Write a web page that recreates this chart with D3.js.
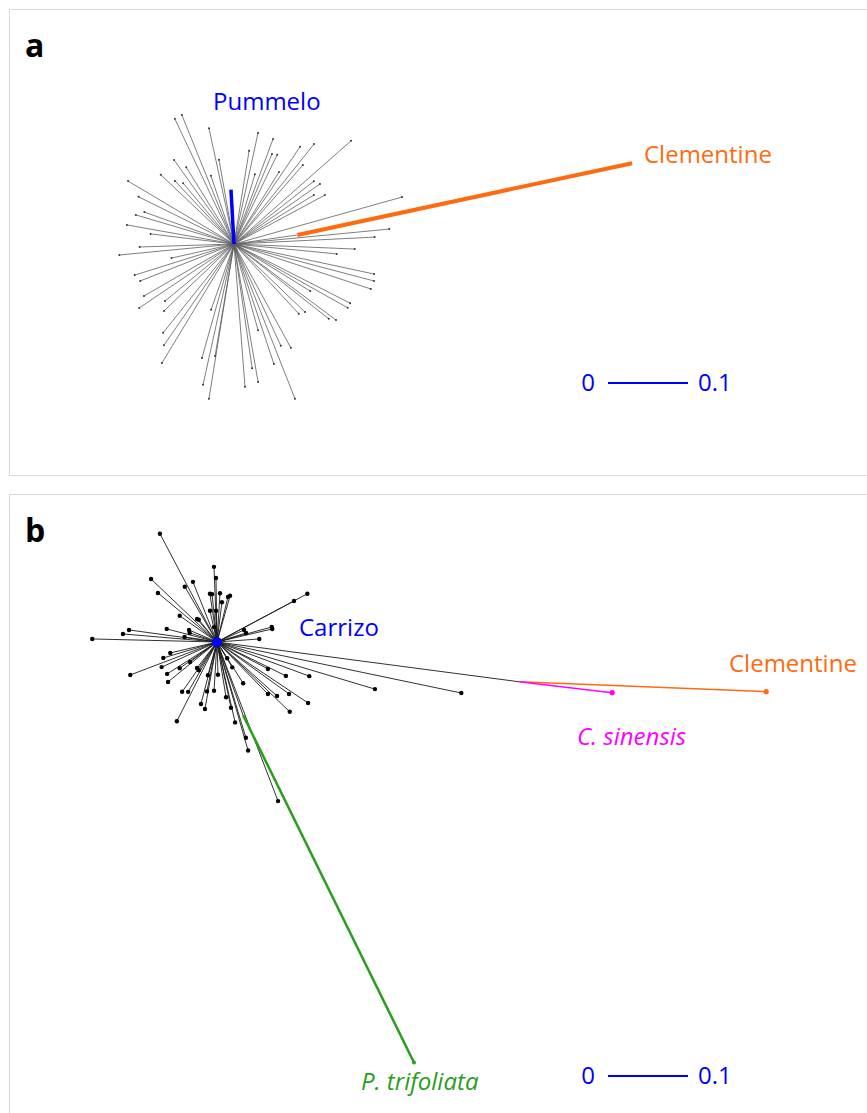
<!DOCTYPE html>
<html>
<head>
<meta charset="utf-8">
<script src="https://cdn.jsdelivr.net/npm/d3@7"></script>
<style>
  body { margin: 0; background: #fff; }
  text { font-family: "Open Sans", "Noto Sans", sans-serif; }
</style>
</head>
<body>
<div id="chart"></div>
<script>
// panel a: tip branches, angle in degrees (screen, clockwise from east) and branch length
var aAngles = [-115.3, -112.0, -102.2, -100.1, -125.5, -121.9, -108.7, -136.6, -133.1, -129.9,
  -149.3, -153.7, -160.4, -163.5, -169.9, -173.1, 178.2, 174.5, 167.3, 162.6, 158.5, 150.0,
  146.0, 140.4, 136.3, 109.2, 128.6, 124.7, 121.2, 105.7, 102.4, 99.2, 99.6,
  -77.8, -69.6, -80.8, -67.1, -64.2, -73.3, -55.8, -51.3, -41.4, -48.9, -58.0, -38.2, -34.9,
  -31.5, -28.3, -15.6, -5.5, -2.8, 2.4, 5.5, 12.1, 14.8, 18.2, 27.0, 29.3, 31.7, 47.1, 43.8,
  38.3, 36.7, 61.3, 65.3, 71.6, 74.4, 81.7, 80.1, 85.6, 68.5];
var aLengths = [0.173, 0.174, 0.148, 0.107, 0.129, 0.113, 0.090, 0.126, 0.108, 0.099,
  0.154, 0.133, 0.119, 0.128, 0.136, 0.105, 0.118, 0.144, 0.080, 0.130, 0.126, 0.130,
  0.143, 0.112, 0.121, 0.087, 0.142, 0.154, 0.174, 0.148, 0.180, 0.196, 0.142,
  0.142, 0.140, 0.118, 0.122, 0.124, 0.091, 0.147, 0.160, 0.195, 0.131, 0.106, 0.127, 0.131,
  0.117, 0.129, 0.218, 0.195, 0.176, 0.151, 0.129, 0.179, 0.181, 0.180, 0.163, 0.163, 0.112,
  0.119, 0.123, 0.151, 0.159, 0.148, 0.140, 0.158, 0.112, 0.157, 0.175, 0.179, 0.208];
var aPummelo = [-93.2, 0.068];
var aClemStem = [-8.1, 0.080];
var aClem = [-12.1, 0.428];

// panel b
var bAngles = [-117.8, -92.3, -90.9, -136.3, -140.3, -120.2, -111.8, -98.3, -95.9, -86.5,
  -76.3, -74.2, -102.7, -91.8, -82.9, -144.9, -131, -129.3, -101.3, -165.4, -172.2, -175.1,
  -178.6, -171.1, -156.8, -161.6, -28.0, -28.1, -24.0, -17.2, -15.3, -13.3, -4.1, 159.2,
  155.6, 166.8, 163.5, 147.4, 140.8, 144.9, 143.5, 127.6, 122.7, 105.3, 101.5, 88.3, 93.5,
  125, 120.1, 104.5, 100.2, 116.9, 58, 59, 57.6, 80.7, 78, 77.3, 73.2, 74, 69, 27.9, 26.2,
  20.3, 45.6, 42, 35.8, 33.8, 43.8, 16.6, 11.8];
var bLengths = [0.153, 0.094, 0.080, 0.114, 0.096, 0.080, 0.081, 0.061, 0.060, 0.061,
  0.058, 0.060, 0.040, 0.039, 0.050, 0.057, 0.038, 0.036, 0.019, 0.065, 0.111, 0.118,
  0.156, 0.041, 0.038, 0.036, 0.109, 0.128, 0.037, 0.038, 0.071, 0.071, 0.053, 0.116,
  0.076, 0.060, 0.070, 0.074, 0.079, 0.057, 0.042, 0.041, 0.042, 0.043, 0.063, 0.041, 0.061,
  0.076, 0.072, 0.080, 0.085, 0.111, 0.024, 0.037, 0.061, 0.070, 0.084, 0.103, 0.125, 0.141,
  0.213, 0.072, 0.096, 0.123, 0.091, 0.101, 0.111, 0.137, 0.126, 0.206, 0.312];
var bCitrusStem = [7.5, 0.381];
var bClem = [2.3, 0.309];
var bSinensis = [6.7, 0.117];
var bTrifStem = [70.4, 0.097];
var bTrif = [63.8, 0.484];

var scaleTicks = ["0", "0.1"];

var blue = "#0000ff", orange = "#ff6a10", magenta = "#ff00ff", green = "#2a9d1c";

var svg = d3.select("#chart").append("svg")
  .attr("width", 867)
  .attr("height", 1113);

// tree units -> pixels, 0.1 = 80px
var lenScale = d3.scaleLinear().domain([0, 0.1]).range([0, 80]);

function endPoint(from, ang, len) {
  var r = lenScale(len), t = ang * Math.PI / 180;
  return [from[0] + r * Math.cos(t), from[1] + r * Math.sin(t)];
}

// panel frames
svg.append("rect").attr("x", 9.5).attr("y", 9.5).attr("width", 870).attr("height", 466)
  .attr("fill", "none").attr("stroke", "#d9d9d9");
svg.append("rect").attr("x", 9.5).attr("y", 494.5).attr("width", 870).attr("height", 640)
  .attr("fill", "none").attr("stroke", "#d9d9d9");

svg.append("text").attr("x", 25).attr("y", 57).attr("font-size", 32).attr("font-weight", "bold").text("a");
svg.append("text").attr("x", 25).attr("y", 542).attr("font-size", 32).attr("font-weight", "bold").text("b");

function scaleBar(y) {
  var g = svg.append("g").attr("transform", `translate(608, ${y})`);
  var axis = d3.scaleLinear().domain([0, 0.1]).range([0, lenScale(0.1)]);
  g.append("line").attr("x1", axis(0)).attr("x2", axis(0.1))
    .attr("stroke", blue).attr("stroke-width", 2);
  g.append("text").attr("x", axis(0) - 13).attr("y", 8).attr("text-anchor", "end")
    .attr("font-size", 24).attr("fill", blue).text(scaleTicks[0]);
  g.append("text").attr("x", axis(0.1) + 10).attr("y", 8)
    .attr("font-size", 24).attr("fill", blue).text(scaleTicks[1]);
}

// ---------- panel a ----------
var ca = [234, 244];
var aTips = d3.zip(aAngles, aLengths);
var ga = svg.append("g");

ga.selectAll("line.br")
  .data(aTips)
  .enter()
  .append("line")
  .attr("class", "br")
  .attr("x1", ca[0]).attr("y1", ca[1])
  .attr("x2", d => endPoint(ca, d[0], d[1])[0])
  .attr("y2", d => endPoint(ca, d[0], d[1])[1])
  .attr("stroke", "#5e5e5e")
  .attr("stroke-width", 0.8);

ga.selectAll("circle.tip")
  .data(aTips)
  .enter()
  .append("circle")
  .attr("class", "tip")
  .attr("cx", d => endPoint(ca, d[0], d[1])[0])
  .attr("cy", d => endPoint(ca, d[0], d[1])[1])
  .attr("r", 1)
  .attr("fill", "#333");

var aStemEnd = endPoint(ca, aClemStem[0], aClemStem[1]);
ga.append("line")
  .attr("x1", ca[0]).attr("y1", ca[1]).attr("x2", aStemEnd[0]).attr("y2", aStemEnd[1])
  .attr("stroke", "#5e5e5e").attr("stroke-width", 0.8);
var aClemEnd = endPoint(aStemEnd, aClem[0], aClem[1]);
ga.append("line")
  .attr("x1", aStemEnd[0]).attr("y1", aStemEnd[1]).attr("x2", aClemEnd[0]).attr("y2", aClemEnd[1])
  .attr("stroke", orange).attr("stroke-width", 4);

var aPumEnd = endPoint(ca, aPummelo[0], aPummelo[1]);
ga.append("line")
  .attr("x1", ca[0]).attr("y1", ca[1]).attr("x2", aPumEnd[0]).attr("y2", aPumEnd[1])
  .attr("stroke", blue).attr("stroke-width", 3.5);

svg.append("text").attr("x", 213).attr("y", 110).attr("font-size", 24).attr("fill", blue).text("Pummelo");
svg.append("text").attr("x", 644).attr("y", 163).attr("font-size", 24).attr("fill", orange).text("Clementine");
scaleBar(383);

// ---------- panel b ----------
var cb = [217, 642];
var bTips = d3.zip(bAngles, bLengths);
var gb = svg.append("g");

gb.selectAll("line.br")
  .data(bTips)
  .enter()
  .append("line")
  .attr("class", "br")
  .attr("x1", cb[0]).attr("y1", cb[1])
  .attr("x2", d => endPoint(cb, d[0], d[1])[0])
  .attr("y2", d => endPoint(cb, d[0], d[1])[1])
  .attr("stroke", "#1a1a1a")
  .attr("stroke-width", 0.9);

var citrusEnd = endPoint(cb, bCitrusStem[0], bCitrusStem[1]);
var trifStemEnd = endPoint(cb, bTrifStem[0], bTrifStem[1]);
gb.append("line")
  .attr("x1", cb[0]).attr("y1", cb[1]).attr("x2", citrusEnd[0]).attr("y2", citrusEnd[1])
  .attr("stroke", "#1a1a1a").attr("stroke-width", 0.9);
gb.append("line")
  .attr("x1", cb[0]).attr("y1", cb[1]).attr("x2", trifStemEnd[0]).attr("y2", trifStemEnd[1])
  .attr("stroke", "#1a1a1a").attr("stroke-width", 0.9);

var clemEnd = endPoint(citrusEnd, bClem[0], bClem[1]);
var sinEnd = endPoint(citrusEnd, bSinensis[0], bSinensis[1]);
var trifEnd = endPoint(trifStemEnd, bTrif[0], bTrif[1]);

gb.append("line")
  .attr("x1", citrusEnd[0]).attr("y1", citrusEnd[1]).attr("x2", clemEnd[0]).attr("y2", clemEnd[1])
  .attr("stroke", orange).attr("stroke-width", 1.5);
gb.append("line")
  .attr("x1", citrusEnd[0]).attr("y1", citrusEnd[1]).attr("x2", sinEnd[0]).attr("y2", sinEnd[1])
  .attr("stroke", magenta).attr("stroke-width", 1.5);
gb.append("line")
  .attr("x1", trifStemEnd[0]).attr("y1", trifStemEnd[1]).attr("x2", trifEnd[0]).attr("y2", trifEnd[1])
  .attr("stroke", green).attr("stroke-width", 2.5);

gb.selectAll("circle.tip")
  .data(bTips)
  .enter()
  .append("circle")
  .attr("class", "tip")
  .attr("cx", d => endPoint(cb, d[0], d[1])[0])
  .attr("cy", d => endPoint(cb, d[0], d[1])[1])
  .attr("r", 2.2)
  .attr("fill", "#000");

gb.append("circle").attr("cx", clemEnd[0]).attr("cy", clemEnd[1]).attr("r", 2.6).attr("fill", orange);
gb.append("circle").attr("cx", sinEnd[0]).attr("cy", sinEnd[1]).attr("r", 2.6).attr("fill", magenta);
gb.append("circle").attr("cx", trifEnd[0]).attr("cy", trifEnd[1]).attr("r", 2).attr("fill", green);
gb.append("circle").attr("cx", cb[0]).attr("cy", cb[1]).attr("r", 5).attr("fill", blue);

svg.append("text").attr("x", 299).attr("y", 636).attr("font-size", 24).attr("fill", blue).text("Carrizo");
svg.append("text").attr("x", 729).attr("y", 672).attr("font-size", 24).attr("fill", orange).text("Clementine");
svg.append("text").attr("x", 577).attr("y", 745).attr("font-size", 24).attr("font-style", "italic")
  .attr("fill", magenta).text("C. sinensis");
svg.append("text").attr("x", 361).attr("y", 1090).attr("font-size", 24).attr("font-style", "italic")
  .attr("fill", green).text("P. trifoliata");
scaleBar(1076);
</script>
</body>
</html>
